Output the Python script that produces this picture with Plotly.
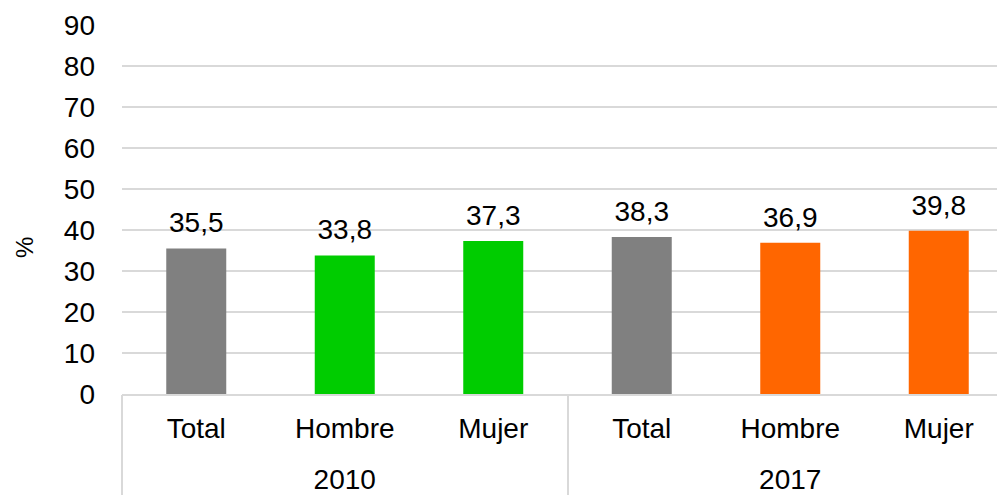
import plotly.graph_objects as go

years = ["2010", "2017"]
groups = ["Total", "Hombre", "Mujer", "Total", "Hombre", "Mujer"]
values = [35.5, 33.8, 37.3, 38.3, 36.9, 39.8]
colors = ["#808080", "#00CC00", "#00CC00", "#808080", "#FF6600", "#FF6600"]
y_ticks = [0, 10, 20, 30, 40, 50, 60, 70, 80, 90]
y_title = "%"

FONT = "Liberation Sans, Arial, sans-serif"
GRID = "#d9d9d9"

n = len(groups)
per_year = n // len(years)
pos = list(range(n))
year_pos = [i * per_year + (per_year - 1) / 2 for i in range(len(years))]
divider_pos = [i * per_year - 0.5 for i in range(len(years) + 1)]
xrange = [-0.5, n - 0.5]

fig = go.Figure()
fig.add_trace(go.Bar(
    x=pos,
    y=values,
    marker=dict(color=colors, line=dict(width=0)),
    hoverinfo="skip",
))
fig.add_trace(go.Scatter(
    x=pos,
    y=values,
    mode="markers+text",
    marker=dict(size=13, color="rgba(0,0,0,0)"),
    text=[f"{v:.1f}".replace(".", ",") for v in values],
    textposition="top center",
    textfont=dict(family=FONT, size=28, color="#000000"),
    hoverinfo="skip",
    cliponaxis=False,
))
# invisible traces to activate the extra x axes
fig.add_trace(go.Scatter(x=year_pos, y=[None] * len(years), xaxis="x2", showlegend=False, hoverinfo="skip"))
fig.add_trace(go.Scatter(x=divider_pos, y=[None] * len(divider_pos), xaxis="x3", showlegend=False, hoverinfo="skip"))

fig.update_layout(
    width=1005,
    height=495,
    margin=dict(l=114, r=0, t=17, b=109, autoexpand=False),
    paper_bgcolor="white",
    plot_bgcolor="white",
    showlegend=False,
    bargap=0.596,
    font=dict(family=FONT, size=28, color="#000000"),
    xaxis=dict(
        range=xrange,
        tickvals=pos,
        ticktext=groups,
        showline=True,
        linecolor=GRID,
        linewidth=1.5,
        showgrid=False,
        zeroline=False,
        ticks="",
        ticklabelstandoff=9,
        tickfont=dict(family=FONT, size=28, color="#000000"),
    ),
    xaxis2=dict(
        overlaying="x",
        anchor="y",
        side="bottom",
        range=xrange,
        tickvals=year_pos,
        ticktext=years,
        showline=False,
        showgrid=False,
        zeroline=False,
        ticks="",
        ticklabelstandoff=66,
        tickfont=dict(family=FONT, size=28, color="#000000"),
    ),
    xaxis3=dict(
        overlaying="x",
        anchor="y",
        side="bottom",
        range=xrange,
        tickvals=divider_pos,
        showticklabels=False,
        showline=False,
        showgrid=False,
        zeroline=False,
        ticks="outside",
        ticklen=110,
        tickwidth=1.5,
        tickcolor=GRID,
    ),
    yaxis=dict(
        range=[0, 90],
        tickvals=y_ticks,
        showgrid=True,
        gridcolor=GRID,
        gridwidth=1.5,
        zeroline=False,
        showline=False,
        ticks="",
        ticklabelstandoff=26,
        tickfont=dict(family=FONT, size=28, color="#000000"),
    ),
    annotations=[dict(
        text=y_title,
        xref="paper", yref="paper",
        x=0, y=0.396,
        xshift=-97,
        xanchor="center", yanchor="middle",
        textangle=-90,
        showarrow=False,
        font=dict(family=FONT, size=24, color="#000000"),
    )],
)

fig.write_html("out.html")
